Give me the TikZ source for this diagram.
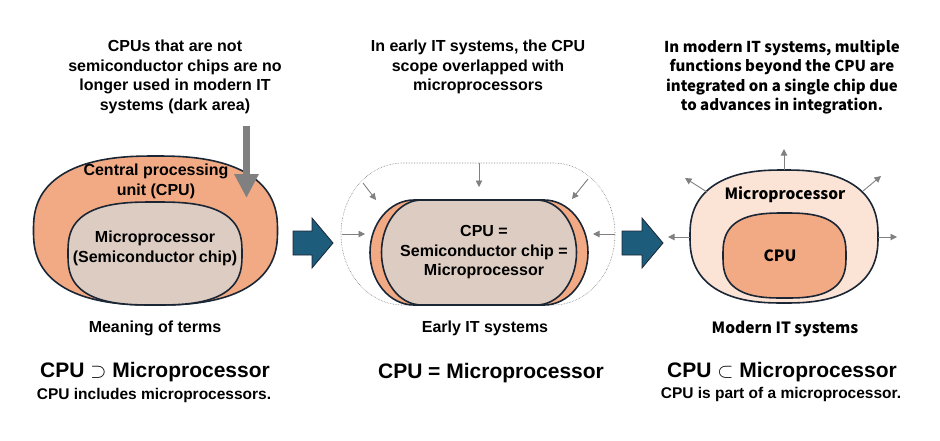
\documentclass[tikz,border=0pt]{standalone}
\usepackage{fontspec}
\setmainfont{Liberation Sans}
\newfontfamily\jpfont{Noto Sans CJK JP}
\usetikzlibrary{arrows.meta}
\definecolor{cpuorange}{HTML}{F2AA84}
\definecolor{chipbeige}{HTML}{DCCCC2}
\definecolor{mppink}{HTML}{FBE3D6}
\definecolor{edgenavy}{HTML}{1B2635}
\definecolor{flowblue}{HTML}{1E5C7C}
\definecolor{hintgray}{HTML}{808080}
% box with elliptical corners: centre x, centre y, half width, half height, corner x radius, corner y radius
\newcommand{\softbox}[6]{(#1-#3+#5,#2-#4) -- (#1+#3-#5,#2-#4)
  arc[start angle=90,end angle=0,x radius=#5pt,y radius=#6pt] -- (#1+#3,#2+#4-#6)
  arc[start angle=0,end angle=-90,x radius=#5pt,y radius=#6pt] -- (#1-#3+#5,#2+#4)
  arc[start angle=-90,end angle=-180,x radius=#5pt,y radius=#6pt] -- (#1-#3,#2-#4+#6)
  arc[start angle=180,end angle=90,x radius=#5pt,y radius=#6pt] -- cycle}
% superellipse: centre x, centre y, half width, half height, exponent
\newcommand{\superblob}[5]{plot[smooth cycle, samples=120, domain=1.5:358.5, variable=\t]
  ({#1+#3*sign(cos(\t))*abs(cos(\t))^(2/#5)}, {#2+#4*sign(sin(\t))*abs(sin(\t))^(2/#5)})}
\tikzset{
  blob/.style={draw=edgenavy, line width=1.6pt},
  lbl/.style={font=\bfseries\fontsize{16}{19.5}\selectfont, align=center, inner sep=0pt},
  note/.style={font=\bfseries\fontsize{16}{19.5}\selectfont, align=center, inner sep=0pt},
  relation/.style={font=\bfseries\fontsize{21}{24}\selectfont, inner sep=0pt},
  relnote/.style={font=\bfseries\fontsize{15.5}{17}\selectfont, inner sep=0pt},
  hint/.style={draw=hintgray, line width=0.9pt, -{Triangle[length=6.5pt,width=6.5pt]}},
  flow/.style={draw=edgenavy, fill=flowblue, line width=0.8pt, line join=miter},
}
\begin{document}
\begin{tikzpicture}[x=1pt, y=-1pt]
	\useasboundingbox (0,0) rectangle (940,440);
	% notes on top
	\node[note] (noteL) at (175,77) {CPUs that are not\\semiconductor chips are no\\longer used in modern IT\\systems (dark area)};
	\node[note] (noteM) at (478,67) {In early IT systems, the CPU\\scope overlapped with\\microprocessors};
	\node[note, font=\jpfont\bfseries\fontsize{15}{19.5}\selectfont] (noteR) at (782,77) {In modern IT systems, multiple\\functions beyond the CPU are\\integrated on a single chip due\\to advances in integration.};
	% meaning of terms
	\draw[blob, fill=cpuorange] \superblob{155.5}{230.5}{122}{74.5}{2.5};
	\draw[blob, fill=chipbeige] \superblob{155}{253.5}{87}{51.5}{2.8};
	\node[lbl] (cpuLtxt) at (156,181.5) {Central processing\\unit (CPU)};
	\node[lbl] (chipLtxt) at (155,248.5) {Microprocessor\\(Semiconductor chip)};
	\draw[hintgray, line width=7pt, -{Triangle[length=24pt,width=23pt]}] (246.5,126) -- (246.5,198);
	\node[lbl] (capL) at (155,328) {Meaning of terms};
	% early IT systems
	\draw[flow, shift={(293,243)}] (0,-12) -- (19,-12) -- (19,-25) -- (40,0) -- (19,25) -- (19,12) -- (0,12) -- cycle;
	\draw[hintgray, densely dotted, line width=0.6pt] \softbox{478}{234}{137}{71}{62}{71};
	\draw[blob, fill=cpuorange] \softbox{479}{252.5}{109}{52.5}{44}{52.5};
	\draw[blob, fill=chipbeige] \softbox{479}{252.5}{97.5}{52.5}{40}{52.5};
	\node[lbl] (chipMtxt) at (484,252.5) {CPU =\\Semiconductor chip =\\Microprocessor};
	\draw[hint] (479,163) -- (479,187);
	\draw[hint] (363,183) -- (376,200);
	\draw[hint] (588,179) -- (572,199);
	\draw[hint] (342,234) -- (365,234);
	\draw[hint] (615,234) -- (593,234);
	\node[lbl] (capM) at (485,328) {Early IT systems};
	% modern IT systems
	\draw[flow, shift={(622,243)}] (0,-12) -- (20,-12) -- (20,-25) -- (41,0) -- (20,25) -- (20,12) -- (0,12) -- cycle;
	\draw[blob, fill=mppink] \superblob{784}{236.5}{94}{66.5}{2.5};
	\draw[blob, fill=cpuorange] \superblob{784.5}{255.5}{61.5}{42.5}{2.8};
	\node[lbl, font=\jpfont\bfseries\fontsize{15.5}{19}\selectfont] (mpRtxt) at (785,195) {Microprocessor};
	\node[lbl, font=\jpfont\bfseries\fontsize{15.5}{19}\selectfont] (cpuRtxt) at (780,256) {CPU};
	\draw[hint] (784,170) -- (784,149);
	\draw[hint] (707,192) -- (685,178);
	\draw[hint] (863,191) -- (881,176);
	\draw[hint] (690,237) -- (668,237);
	\draw[hint] (878,237) -- (897,237);
	\node[lbl, font=\jpfont\bfseries\fontsize{15.5}{19}\selectfont] (capR) at (785,329) {Modern IT systems};
	% relations
	\node[relation] (relL) at (155,372) {CPU $\supset$ Microprocessor};
	\node[relnote] (subL) at (154,395) {CPU includes microprocessors.};
	\node[relation] (relM) at (491,373) {CPU = Microprocessor};
	\node[relation] (relR) at (782,372) {CPU $\subset$ Microprocessor};
	\node[relnote] (subR) at (781,394) {CPU is part of a microprocessor.};
\end{tikzpicture}
\end{document}
